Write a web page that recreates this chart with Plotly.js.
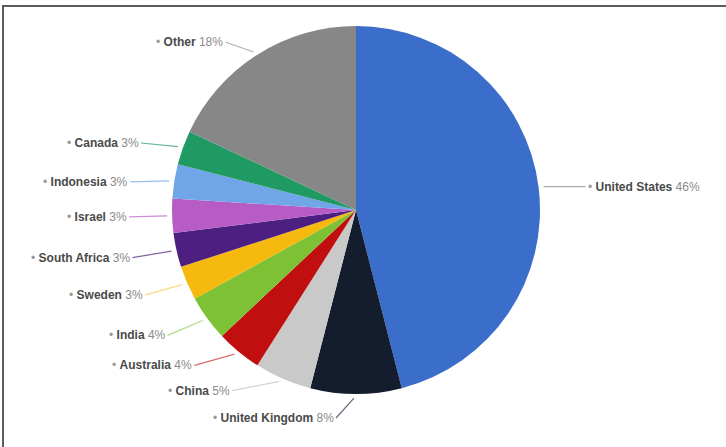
<!DOCTYPE html>
<html>
<head>
<meta charset="utf-8">
<script src="https://cdn.plot.ly/plotly-3.0.1.min.js"></script>
<style>
  html, body { margin: 0; padding: 0; background: #fff; }
  #wrap { position: relative; width: 726px; height: 447px; overflow: hidden; }
  #chart { position: absolute; left: 0; top: 0; width: 726px; height: 447px; }
  #frame { position: absolute; left: 2px; top: 5px; right: -4px; bottom: -4px;
           border-left: 2px solid #5c5c5c; border-top: 2px solid #5c5c5c; pointer-events: none; }
</style>
</head>
<body>
<div id="wrap"><div id="chart"></div><div id="frame"></div></div>
<script>
// ---- data ----
const countries = ["United States", "United Kingdom", "China", "Australia", "India",
                   "Sweden", "South Africa", "Israel", "Indonesia", "Canada", "Other"];
const shares = [46, 8, 5, 4, 4, 3, 3, 3, 3, 3, 18];

// ---- styles ----
const sliceColors = ["#3b6dca", "#141d2d", "#c9c9c9", "#c10f0f", "#7cc234",
                     "#f6b90f", "#4c1f80", "#b65cc4", "#70a5e8", "#1f9a62", "#878787"];
const lineColors = ["rgba(150,150,150,0.8)", "rgba(60,70,90,0.8)", "rgba(200,200,200,0.8)",
                    "rgba(193,15,15,0.6)", "rgba(124,194,52,0.6)", "rgba(246,185,15,0.5)",
                    "rgba(76,31,128,0.7)", "rgba(182,92,196,0.7)", "rgba(112,165,232,0.7)",
                    "rgba(31,154,98,0.7)", "rgba(160,160,160,0.8)"];
// label text offsets (pixels) from the slice edge point
const labelDX = [45, -20, -50, -43, -38, -40, -42, -41, -42, -40, -31];
const labelDY = [0, 22, 10, 12, 16, 11, 7, 1, 1, -4, -11];

const W = 726, H = 447;
const cx = 356, cy = 210, R = 184;

const total = shares.reduce((a, b) => a + b, 0);
const annotations = [];
let cum = 0;
shares.forEach((v, i) => {
  const mid = (cum + v / 2) / total * 2 * Math.PI;
  cum += v;
  const px = cx + (R + 2) * Math.sin(mid);
  const py = cy - (R + 2) * Math.cos(mid);
  const right = labelDX[i] > 0;
  annotations.push({
    xref: 'paper', yref: 'paper',
    x: px / W, y: 1 - py / H,
    ax: labelDX[i], ay: labelDY[i],
    axref: 'pixel', ayref: 'pixel',
    showarrow: true, arrowhead: 0, arrowwidth: 1.2,
    arrowcolor: lineColors[i], standoff: 3,
    xanchor: right ? 'left' : 'right', yanchor: 'middle',
    text: "<span style='color:#9a9a9a'>•</span> <b>" + countries[i] + "</b> <span style='color:#8a8a8a'>" + shares[i] + "%</span>",
    font: { family: 'Liberation Sans, Arial, sans-serif', size: 12, color: '#4a4a4a' }
  });
});

const trace = {
  type: 'pie',
  labels: countries,
  values: shares,
  sort: false,
  direction: 'clockwise',
  rotation: 0,
  textinfo: 'none',
  hoverinfo: 'label+percent',
  marker: { colors: sliceColors, line: { width: 0 } },
  domain: { x: [(cx - R) / W, (cx + R) / W], y: [1 - (cy + R) / H, 1 - (cy - R) / H] },
  showlegend: false
};

Plotly.newPlot('chart', [trace], {
  width: W, height: H,
  margin: { l: 0, r: 0, t: 0, b: 0 },
  paper_bgcolor: '#ffffff',
  showlegend: false,
  annotations: annotations
}, { displayModeBar: false, staticPlot: true });
</script>
</body>
</html>
